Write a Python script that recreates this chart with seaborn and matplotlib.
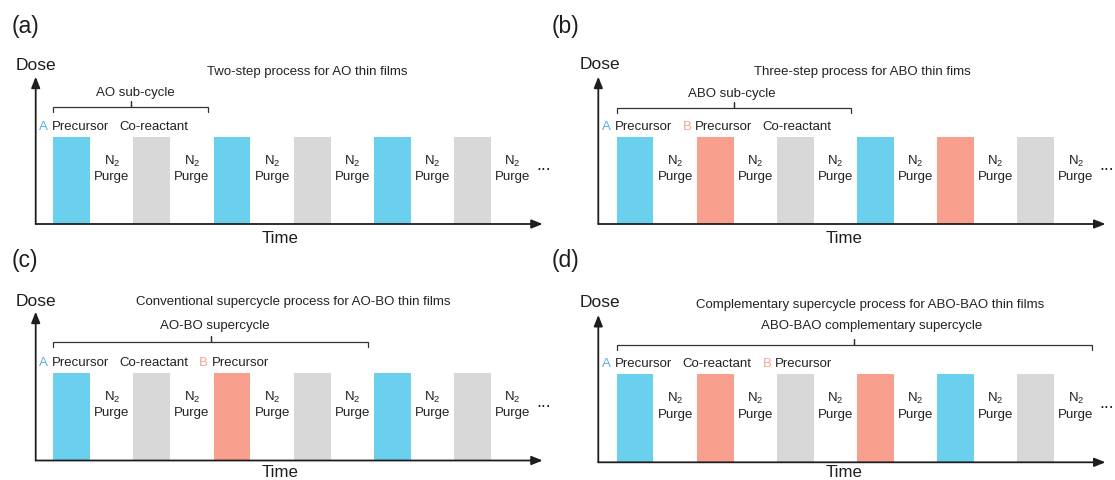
import matplotlib
matplotlib.use("Agg")
import matplotlib.pyplot as plt
import pandas as pd
import seaborn as sns

sns.set_theme(style="white")
plt.rcParams["font.family"] = ["Liberation Sans", "DejaVu Sans"]
plt.rcParams["mathtext.fontset"] = "custom"
plt.rcParams["mathtext.rm"] = "Liberation Sans"
plt.rcParams["mathtext.it"] = "Liberation Sans:italic"

# ---- pulse sequences: A / B precursor doses and O (co-reactant) doses ----
pulses_a = ["A", "O", "A", "O", "A", "O"]
pulses_b = ["A", "B", "O", "A", "B", "O"]
pulses_c = ["A", "O", "B", "O", "A", "O"]
pulses_d = ["A", "B", "O", "B", "A", "O"]
dose = [1, 1, 1, 1, 1, 1]

panel_letters = ["(a)", "(b)", "(c)", "(d)"]
titles = [
    "Two-step process for AO thin films",
    "Three-step process for ABO thin fims",
    "Conventional supercycle process for AO-BO thin films",
    "Complementary supercycle process for ABO-BAO thin films",
]
cycle_names = ["AO sub-cycle", "ABO sub-cycle", "AO-BO supercycle",
               "ABO-BAO complementary supercycle"]
cycle_lengths = [2, 3, 4, 6]
# header over the first pulses of each panel: (coloured letter, text)
header_a = [("A", "Precursor"), ("", "Co-reactant")]
header_b = [("A", "Precursor"), ("B", "Precursor"), ("", "Co-reactant")]
header_c = [("A", "Precursor"), ("", "Co-reactant"), ("B", "Precursor")]
header_d = [("A", "Precursor"), ("", "Co-reactant"), ("B", "Precursor")]
purge_top = "N$_2$"
purge_bottom = "Purge"

bar_colors = {"A": "#6BCFEE", "B": "#F99F8D", "O": "#D8D8D8"}
letter_colors = {"A": "#5AAEE3", "B": "#F7A594"}

W, H = 1115, 480
fig = plt.figure(figsize=(W / 100, H / 100), dpi=100)

# axes geometry in pixels: left, right, top, bottom, first bar centre
geom = [
    (35.7, 542.7, 76.7, 224.0, 71.7),
    (598.3, 1105.5, 76.7, 224.0, 635.0),
    (35.7, 542.7, 311.7, 460.5, 71.7),
    (598.3, 1105.5, 315.0, 462.3, 635.0),
]
pitch = 80.15
bar_px = [87.3, 87.3, 87.8, 88.3]
# vertical placement (data units) of title, cycle label, bracket, header, Dose, Time
ypos = [
    dict(title=1.71, cyc=1.466, br=1.344, head=1.082, dose=1.764, time=-0.215),
    dict(title=1.707, cyc=1.458, br=1.332, head=1.072, dose=1.77, time=-0.215),
    dict(title=1.77, cyc=1.498, br=1.353, head=1.082, dose=1.76, time=-0.19),
    dict(title=1.753, cyc=1.504, br=1.33, head=1.074, dose=1.764, time=-0.17),
]
title_x = [2.945, 2.836, 2.76, 2.93]
cyc_x = [0.79, 1.213, 1.78, 2.95]
letter_px = [(12, 32.5), (552, 32.5), (12, 267.5), (552, 267.5)]

pulses_all = [pulses_a, pulses_b, pulses_c, pulses_d]
headers = [header_a, header_b, header_c, header_d]

small = 9.5
ink = "#1e1e1e"
txt = "#222222"

for k in range(4):
    left, right, top, bottom, c0 = geom[k]
    ax = fig.add_axes([left / W, 1 - bottom / H, (right - left) / W, (bottom - top) / H])
    pulses = pulses_all[k]
    df = pd.DataFrame({"step": list(range(len(pulses))), "dose": dose, "species": pulses})
    sns.barplot(data=df, x="step", y="dose", hue="species", palette=bar_colors,
                native_scale=True, dodge=False, width=0.458, errorbar=None,
                saturation=1, legend=False, linewidth=0, ax=ax)
    ax.set_xlim((left - c0) / pitch, (right - c0) / pitch)
    ax.set_ylim(0, (bottom - top) / bar_px[k])
    ax.set_axis_off()

    # axes drawn as arrows
    arrow = dict(arrowstyle="-|>,head_length=0.55,head_width=0.22", lw=1.3, color=ink,
                 mutation_scale=12, shrinkA=0, shrinkB=0)
    ax.annotate("", xy=(1, 0), xytext=(0, 0), xycoords="axes fraction",
                textcoords="axes fraction", arrowprops=arrow, annotation_clip=False)
    ax.annotate("", xy=(0, 1), xytext=(0, 0), xycoords="axes fraction",
                textcoords="axes fraction", arrowprops=arrow, annotation_clip=False)

    y = ypos[k]
    ax.text(-0.697, y["dose"], "Dose", fontsize=12.5, ha="left", va="baseline", color=ink)
    ax.text(2.605, y["time"], "Time", fontsize=12.2, ha="center", va="baseline", color=ink)
    ax.text(title_x[k], y["title"], titles[k], fontsize=small, ha="center",
            va="baseline", color=txt)

    # bracket spanning one (super)cycle
    x0 = -0.229
    x1 = cycle_lengths[k] - 0.3
    xm = (x0 + x1) / 2
    yb = y["br"]
    ax.plot([x0, x0, xm, xm, xm, x1, x1],
            [yb - 0.06, yb, yb, yb + 0.065, yb, yb, yb - 0.06],
            color="#333333", lw=0.9, clip_on=False, solid_joinstyle="miter")
    ax.text(cyc_x[k], y["cyc"], cycle_names[k], fontsize=small, ha="center",
            va="baseline", color=txt)

    # pulse headers
    for i, (letter, word) in enumerate(headers[k]):
        if letter:
            xs = i - 0.25
            ax.text(xs, y["head"], word, fontsize=small, ha="left", va="baseline",
                    color=txt)
            ax.annotate(letter, xy=(xs, y["head"]), xytext=(-2.7, 0),
                        textcoords="offset points", fontsize=small, ha="right",
                        va="baseline", color=letter_colors[letter],
                        annotation_clip=False)
        else:
            ax.text(i + 0.02, y["head"], word, fontsize=small, ha="center",
                    va="baseline", color=txt)

    # purge steps between doses
    for i in range(len(pulses)):
        ax.text(i + 0.5, 0.68, purge_top, fontsize=small, ha="center",
                va="baseline", color=txt)
        ax.text(i + 0.5, 0.505, purge_bottom, fontsize=small, ha="center",
                va="baseline", color=txt)
    ax.text(5.89, 0.615, "...", fontsize=13, ha="center", va="baseline", color=txt)

    lx, ly = letter_px[k]
    fig.text(lx / W, 1 - ly / H, panel_letters[k], fontsize=16.5, ha="left",
             va="baseline", color=ink)

fig.savefig("out.png", dpi=100, facecolor="white")
